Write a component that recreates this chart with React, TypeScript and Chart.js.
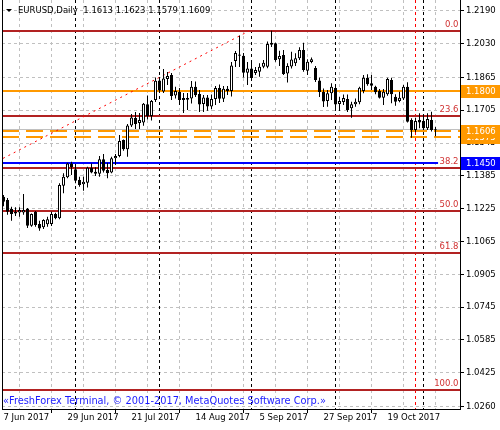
import React, { useEffect, useRef } from 'react';
import { Chart, registerables } from 'chart.js';

Chart.register(...registerables);

const FONT = "'DejaVu Sans', sans-serif";
const FS = 8.5;

// ---- daily candles, EURUSD (index 0 = 7 Jun 2017) ----
const opens = [
  1.1283, 1.1267, 1.1224, 1.1210, 1.1206, 1.1206, 1.1224, 1.1142, 1.1210, 1.1150,
  1.1134, 1.1149, 1.1150, 1.1199, 1.1178, 1.1337, 1.1378, 1.1446, 1.1417, 1.1365,
  1.1344, 1.1352, 1.1425, 1.1405, 1.1396, 1.1466, 1.1414, 1.1401, 1.1471, 1.1482,
  1.1560, 1.1515, 1.1631, 1.1667, 1.1643, 1.1645, 1.1735, 1.1677, 1.1755, 1.1850,
  1.1797, 1.1858, 1.1877, 1.1777, 1.1794, 1.1765, 1.1757, 1.1762, 1.1820, 1.1785,
  1.1736, 1.1767, 1.1723, 1.1760, 1.1814, 1.1761, 1.1810, 1.1799, 1.1945, 1.1977,
  1.1971, 1.1888, 1.1909, 1.1887, 1.1893, 1.1918, 1.1918, 1.2025, 1.2032, 1.1954,
  1.1975, 1.1885, 1.1919, 1.1934, 1.1959, 1.1999, 1.1898, 1.1941, 1.1911, 1.1850,
  1.1794, 1.1750, 1.1788, 1.1814, 1.1736, 1.1745, 1.1760, 1.1715, 1.1734, 1.1744,
  1.1799, 1.1864, 1.1837, 1.1820, 1.1799, 1.1766, 1.1783, 1.1853, 1.1771, 1.1750,
  1.1763, 1.1820, 1.1658, 1.1609, 1.1658, 1.1653, 1.1617, 1.1658, 1.1613,
];
const highs = [
  1.1292, 1.1277, 1.1235, 1.1232, 1.1232, 1.1297, 1.1229, 1.1202, 1.1214, 1.1166,
  1.1173, 1.1186, 1.1210, 1.1205, 1.1349, 1.1398, 1.1449, 1.1454, 1.1443, 1.1381,
  1.1381, 1.1430, 1.1446, 1.1427, 1.1482, 1.1492, 1.1449, 1.1479, 1.1492, 1.1585,
  1.1563, 1.1638, 1.1687, 1.1697, 1.1692, 1.1741, 1.1777, 1.1755, 1.1865, 1.1867,
  1.1906, 1.1892, 1.1887, 1.1820, 1.1814, 1.1789, 1.1789, 1.1848, 1.1845, 1.1804,
  1.1780, 1.1780, 1.1782, 1.1823, 1.1831, 1.1823, 1.1823, 1.1941, 1.1994, 1.2070,
  1.1984, 1.1941, 1.1950, 1.1916, 1.1934, 1.1950, 1.2040, 1.2093, 1.2035, 1.1996,
  1.1999, 1.1934, 1.1991, 1.1983, 1.2012, 1.2035, 1.1954, 1.1963, 1.1921, 1.1865,
  1.1811, 1.1804, 1.1837, 1.1819, 1.1770, 1.1782, 1.1782, 1.1747, 1.1763, 1.1820,
  1.1877, 1.1881, 1.1877, 1.1825, 1.1809, 1.1809, 1.1864, 1.1864, 1.1783, 1.1796,
  1.1828, 1.1842, 1.1666, 1.1669, 1.1690, 1.1685, 1.1690, 1.1698, 1.1623,
];
const lows = [
  1.1237, 1.1196, 1.1166, 1.1189, 1.1186, 1.1196, 1.1131, 1.1137, 1.1137, 1.1118,
  1.1126, 1.1137, 1.1141, 1.1173, 1.1173, 1.1300, 1.1373, 1.1389, 1.1349, 1.1332,
  1.1313, 1.1329, 1.1398, 1.1385, 1.1381, 1.1401, 1.1373, 1.1398, 1.1438, 1.1476,
  1.1508, 1.1479, 1.1624, 1.1614, 1.1614, 1.1630, 1.1660, 1.1655, 1.1745, 1.1789,
  1.1789, 1.1828, 1.1755, 1.1763, 1.1731, 1.1692, 1.1706, 1.1738, 1.1770, 1.1697,
  1.1697, 1.1703, 1.1711, 1.1731, 1.1741, 1.1745, 1.1780, 1.1772, 1.1916, 1.1916,
  1.1865, 1.1828, 1.1855, 1.1877, 1.1869, 1.1910, 1.1910, 1.2014, 1.1942, 1.1921,
  1.1877, 1.1840, 1.1909, 1.1921, 1.1950, 1.1893, 1.1877, 1.1934, 1.1843, 1.1770,
  1.1721, 1.1722, 1.1755, 1.1716, 1.1702, 1.1731, 1.1697, 1.1669, 1.1722, 1.1734,
  1.1788, 1.1825, 1.1804, 1.1783, 1.1763, 1.1731, 1.1776, 1.1739, 1.1727, 1.1744,
  1.1755, 1.1646, 1.1571, 1.1598, 1.1617, 1.1609, 1.1609, 1.1601, 1.1579,
];
const closes = [
  1.1259, 1.1210, 1.1199, 1.1202, 1.1219, 1.1219, 1.1142, 1.1199, 1.1145, 1.1129,
  1.1170, 1.1173, 1.1199, 1.1178, 1.1341, 1.1381, 1.1446, 1.1427, 1.1361, 1.1341,
  1.1357, 1.1425, 1.1402, 1.1396, 1.1466, 1.1410, 1.1398, 1.1471, 1.1482, 1.1555,
  1.1515, 1.1631, 1.1670, 1.1638, 1.1658, 1.1737, 1.1677, 1.1750, 1.1849, 1.1802,
  1.1860, 1.1872, 1.1775, 1.1799, 1.1755, 1.1755, 1.1765, 1.1820, 1.1778, 1.1733,
  1.1768, 1.1723, 1.1760, 1.1814, 1.1761, 1.1810, 1.1799, 1.1923, 1.1984, 1.1971,
  1.1888, 1.1909, 1.1863, 1.1902, 1.1918, 1.1937, 1.2028, 1.2035, 1.1950, 1.1970,
  1.1882, 1.1921, 1.1953, 1.1959, 1.1999, 1.1902, 1.1942, 1.1954, 1.1853, 1.1794,
  1.1748, 1.1788, 1.1820, 1.1733, 1.1750, 1.1765, 1.1706, 1.1734, 1.1747, 1.1815,
  1.1864, 1.1832, 1.1825, 1.1793, 1.1766, 1.1796, 1.1858, 1.1783, 1.1747, 1.1766,
  1.1820, 1.1649, 1.1609, 1.1653, 1.1646, 1.1617, 1.1663, 1.1609, 1.1609,
];

// ---- axes ----
const dateLabels = ['7 Jun 2017', '29 Jun 2017', '21 Jul 2017', '14 Aug 2017', '5 Sep 2017', '27 Sep 2017', '19 Oct 2017'];
const labelBars = [0, 16, 32, 48, 64, 80, 96];
const gridBars = [0, 8, 16, 24, 32, 40, 48, 56, 64, 72, 80, 88, 96, 104, 112];
const priceTicks = [1.2190, 1.2030, 1.1865, 1.1705, 1.1545, 1.1385, 1.1225, 1.1065, 1.0905, 1.0745, 1.0585, 1.0425, 1.0260];
const priceMin = 1.0248;
const priceMax = 1.2243;
const barMin = -0.375;
const barMax = 114.125;

// ---- objects on the chart ----
const fibLevels = [0.0, 23.6, 38.2, 50.0, 61.8, 100.0];
const fibTop = 1.2092;
const fibBottom = 1.0340;
const trendBars = [-112, 61.4];
const trendPrices = [1.0340, 1.2092];
const resistanceLevel = 1.1800;
const dashedLevels = [1.1606, 1.1575];
const blueLevel = 1.1450;
const bidPrice = 1.1609;
const monthStartBars = [18, 39, 62, 83, 105];
const redMarkBar = 103;
const axisBoxPrices = [1.1800, 1.1575, 1.1606, 1.1450];
const axisBoxColors = ['#ff9900', '#ff9900', '#ff9900', '#0000ff'];

const titleText = 'EURUSD,Daily  1.1613 1.1623 1.1579 1.1609';
const copyrightText = '«FreshForex Terminal, © 2001-2017, MetaQuotes Software Corp.»';

const ORANGE = '#ff9900';
const FIB_RED = '#b22222';

const overlayPlugin = {
  id: 'mtOverlay',
  beforeDatasetsDraw(chart: any) {
    const { ctx, chartArea: a, scales } = chart;
    const xs = scales.x;
    const ys = scales.y;
    ctx.save();
    ctx.beginPath();
    ctx.rect(a.left, a.top, a.right - a.left, a.bottom - a.top);
    ctx.clip();

    const vline = (bar: number, color: string) => {
      const px = Math.floor(xs.getPixelForValue(bar)) + 0.5;
      ctx.setLineDash([3, 3]);
      ctx.lineWidth = 1;
      ctx.strokeStyle = color;
      ctx.beginPath();
      ctx.moveTo(px, a.top);
      ctx.lineTo(px, a.bottom);
      ctx.stroke();
    };
    monthStartBars.forEach((b) => vline(b, '#000000'));
    vline(redMarkBar, '#ff0000');

    const hline = (price: number, color: string, width: number, dash: number[]) => {
      const raw = ys.getPixelForValue(price);
      const py = width % 2 === 1 ? Math.floor(raw) + 0.5 : Math.round(raw);
      ctx.setLineDash(dash);
      ctx.lineWidth = width;
      ctx.strokeStyle = color;
      ctx.beginPath();
      ctx.moveTo(a.left, py);
      ctx.lineTo(a.right, py);
      ctx.stroke();
    };
    hline(bidPrice, '#c0c0c0', 1, []);
    fibLevels.forEach((lv) => hline(fibTop - ((fibTop - fibBottom) * lv) / 100, FIB_RED, 2, []));
    hline(resistanceLevel, ORANGE, 2, []);
    dashedLevels.forEach((p) => hline(p, ORANGE, 2, [17, 7]));
    hline(blueLevel, '#0000ff', 2, []);
    ctx.restore();
  },
  afterDraw(chart: any) {
    const { ctx, chartArea: a, scales } = chart;
    const ys = scales.y;
    ctx.save();
    ctx.font = `${FS}px ${FONT}`;

    // fibo level labels
    fibLevels.forEach((lv) => {
      const price = fibTop - ((fibTop - fibBottom) * lv) / 100;
      const py = Math.round(ys.getPixelForValue(price));
      const txt = lv.toFixed(1);
      const w = ctx.measureText(txt).width;
      ctx.fillStyle = '#ffffff';
      ctx.fillRect(a.right - w - 3, py - 11, w + 3, 10);
      ctx.fillStyle = '#d03030';
      ctx.textAlign = 'right';
      ctx.textBaseline = 'middle';
      ctx.fillText(txt, a.right - 1.5, py - 6);
    });

    // price boxes on the axis
    axisBoxPrices.forEach((p, i) => {
      const py = Math.round(ys.getPixelForValue(p));
      ctx.fillStyle = axisBoxColors[i];
      ctx.fillRect(a.right + 1, py - 6, 39, 13);
      ctx.fillStyle = '#ffffff';
      ctx.textAlign = 'left';
      ctx.textBaseline = 'middle';
      ctx.fillText(p.toFixed(4), a.right + 6, py + 0.5);
    });

    // left frame line
    ctx.strokeStyle = '#000000';
    ctx.lineWidth = 1;
    ctx.setLineDash([]);
    ctx.beginPath();
    ctx.moveTo(a.left + 0.5, a.top);
    ctx.lineTo(a.left + 0.5, a.bottom);
    ctx.stroke();

    // title
    ctx.fillStyle = '#000000';
    ctx.beginPath();
    ctx.moveTo(6, 9);
    ctx.lineTo(12, 9);
    ctx.lineTo(9, 12);
    ctx.closePath();
    ctx.fill();
    ctx.textAlign = 'left';
    ctx.textBaseline = 'middle';
    ctx.fillText(titleText, 18, 10.5);

    // copyright
    ctx.font = `9.8px ${FONT}`;
    ctx.fillStyle = '#1a1aff';
    ctx.fillText(copyrightText, 3, 401);
    ctx.restore();
  },
};

export default function App() {
  const ref = useRef<HTMLCanvasElement>(null);
  useEffect(() => {
    document.body.style.margin = '0';
    Chart.defaults.font.family = FONT;
    const idx = opens.map((_, i) => i);
    const chart = new Chart(ref.current as HTMLCanvasElement, {
      type: 'bar',
      data: {
        datasets: [
          {
            type: 'bar',
            label: 'body',
            data: idx.map((i) => ({ x: i, y: [opens[i], closes[i]] })) as any,
            backgroundColor: idx.map((i) => (closes[i] >= opens[i] ? '#ffffff' : '#000000')),
            borderColor: '#000000',
            borderWidth: 1,
            borderSkipped: false,
            grouped: false,
            barPercentage: 1,
            categoryPercentage: 1,
            maxBarThickness: 3,
            inflateAmount: 0,
            order: 0,
          } as any,
          {
            type: 'bar',
            label: 'wick',
            data: idx.map((i) => ({ x: i, y: [lows[i], highs[i]] })) as any,
            backgroundColor: '#000000',
            borderWidth: 0,
            grouped: false,
            barPercentage: 1,
            categoryPercentage: 1,
            maxBarThickness: 1,
            inflateAmount: 0,
            order: 1,
          } as any,
          {
            type: 'line',
            label: 'trend',
            data: trendBars.map((b, i) => ({ x: b, y: trendPrices[i] })) as any,
            borderColor: '#ff0000',
            borderWidth: 1,
            borderDash: [2, 4],
            pointRadius: 0,
            fill: false,
            order: 2,
          } as any,
        ],
      },
      options: {
        responsive: false,
        animation: false,
        events: [],
        layout: { padding: { left: 2, top: 0, right: 0, bottom: 0 } },
        plugins: { legend: { display: false }, tooltip: { enabled: false }, title: { display: false } },
        scales: {
          x: {
            type: 'linear',
            min: barMin,
            max: barMax,
            offset: false,
            afterBuildTicks: (s: any) => {
              s.ticks = gridBars.map((v) => ({ value: v }));
            },
            afterFit: (s: any) => {
              s.height = 21;
              s.paddingLeft = 0;
              s.paddingRight = 0;
            },
            ticks: {
              autoSkip: false,
              maxRotation: 0,
              minRotation: 0,
              align: 'start',
              padding: 0,
              color: '#000000',
              font: { family: FONT, size: FS },
              callback: (v: any) => {
                const k = labelBars.indexOf(Number(v));
                return k >= 0 ? dateLabels[k] : '';
              },
            },
            grid: {
              color: (c: any) => (c.tick && c.tick.value === 0 ? 'rgba(0,0,0,0)' : '#c0c0c0'),
              lineWidth: 1,
              tickLength: 4,
              tickColor: (c: any) => (c.tick && labelBars.includes(c.tick.value) ? '#000000' : 'rgba(0,0,0,0)'),
            },
            border: { display: true, color: '#000000', width: 1, dash: [3, 3] },
          } as any,
          y: {
            type: 'linear',
            position: 'right',
            min: priceMin,
            max: priceMax,
            afterBuildTicks: (s: any) => {
              s.ticks = priceTicks.map((v) => ({ value: v }));
            },
            afterFit: (s: any) => {
              s.width = 40;
              s.paddingTop = 0;
              s.paddingBottom = 0;
            },
            ticks: {
              autoSkip: false,
              padding: 2,
              color: '#000000',
              font: { family: FONT, size: FS },
              callback: (v: any) => Number(v).toFixed(4),
            },
            grid: { color: '#c0c0c0', lineWidth: 1, tickLength: 4, tickColor: '#000000' },
            border: { display: true, color: '#000000', width: 1, dash: [3, 3] },
          } as any,
        },
      },
      plugins: [overlayPlugin as any],
    });
    return () => chart.destroy();
  }, []);
  return (
    <div style={{ width: 500, height: 430, background: '#ffffff' }}>
      <canvas ref={ref} width={500} height={430} style={{ display: 'block' }} />
    </div>
  );
}
